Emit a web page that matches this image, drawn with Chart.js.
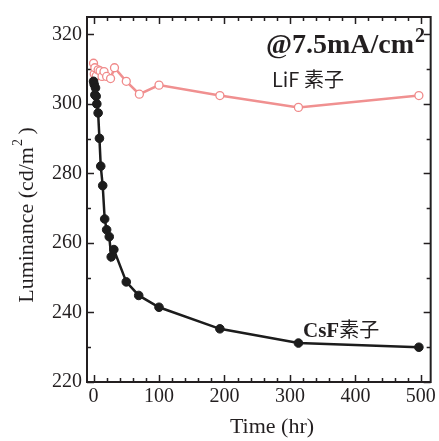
<!DOCTYPE html>
<html>
<head>
<meta charset="utf-8">
<script src="https://cdn.jsdelivr.net/npm/chart.js@4"></script>
<style>
  html, body { margin: 0; padding: 0; background: #fff; }
  #wrap { width: 439px; height: 441px; }
</style>
</head>
<body>
<div id="wrap"><canvas id="myChart"></canvas></div>
<script>
// Datos (tiempo en horas, luminancia en cd/m2)
var csfTime = [0, 1, 2, 3, 4, 5, 7, 9, 11, 14, 17, 20, 24, 27, 31, 50, 69, 100, 193, 313, 497];
var csfLum = [306.5, 305.6, 302.6, 304.6, 302.2, 300.0, 297.4, 290.1, 282.1, 276.5, 266.9, 263.8, 261.8, 256.0, 258.1, 248.8, 244.9, 241.5, 235.3, 231.2, 230.0];

var lifTime = [0, 1, 2, 4, 7, 10, 13, 16, 20, 26, 32, 50, 70, 100, 193, 313, 497];
var lifLum = [311.7, 308.6, 310.4, 308.0, 309.8, 309.5, 307.9, 309.3, 307.9, 307.3, 310.4, 306.5, 302.8, 305.4, 302.4, 299.0, 302.4];

var xTicks = [0, 100, 200, 300, 400, 500];
var yTicks = [220, 240, 260, 280, 300, 320];
var xMinorStep = 20;
var yMinorStep = 10;

var inkColor = '#231f20';
var serif = "'Liberation Serif', 'DejaVu Serif', serif";
var cjk = "'Noto Sans CJK JP', 'Noto Sans', sans-serif";

// Marco con marcas hacia adentro en los cuatro lados
var framePlugin = {
    id: 'frame',
    beforeDatasetsDraw: function(chart) {
        var ctx = chart.ctx;
        var a = chart.chartArea;
        var xs = chart.scales.x;
        var ys = chart.scales.y;
        ctx.save();
        ctx.strokeStyle = inkColor;
        ctx.lineWidth = 1.5;
        var v, px, len;
        for (v = xs.min; v <= xs.max; v++) {
            if (v % xMinorStep !== 0) continue;
            px = Math.round(xs.getPixelForValue(v)) + 0.5;
            len = (v % 100 === 0) ? 7 : 4;
            ctx.beginPath();
            ctx.moveTo(px, a.bottom); ctx.lineTo(px, a.bottom - len);
            ctx.moveTo(px, a.top); ctx.lineTo(px, a.top + len);
            ctx.stroke();
        }
        for (v = ys.min; v <= ys.max; v++) {
            if (v % yMinorStep !== 0) continue;
            px = Math.round(ys.getPixelForValue(v)) + 0.5;
            len = (v % 20 === 0) ? 7 : 4;
            ctx.beginPath();
            ctx.moveTo(a.left, px); ctx.lineTo(a.left + len, px);
            ctx.moveTo(a.right, px); ctx.lineTo(a.right - len, px);
            ctx.stroke();
        }
        ctx.lineWidth = 2;
        ctx.strokeRect(a.left, a.top, a.right - a.left, a.bottom - a.top);
        ctx.restore();
    },
    afterDraw: function(chart) {
        var ctx = chart.ctx;
        ctx.save();
        ctx.fillStyle = inkColor;
        ctx.textBaseline = 'alphabetic';

        // titulo eje Y
        ctx.save();
        ctx.translate(25, 215);
        ctx.rotate(-Math.PI / 2);
        var t1 = 'Luminance (cd/m';
        var t3 = ' )';
        ctx.font = '14px ' + serif;
        var w2 = ctx.measureText('2').width;
        ctx.font = '22px ' + serif;
        var w1 = ctx.measureText(t1).width;
        var w3 = ctx.measureText(t3).width;
        var x0 = -(w1 + w2 + w3) / 2;
        ctx.textAlign = 'left';
        ctx.fillText(t1, x0, 8);
        ctx.font = '14px ' + serif;
        ctx.fillText('2', x0 + w1 + 1, -3);
        ctx.font = '22px ' + serif;
        ctx.fillText(t3, x0 + w1 + w2, 8);
        ctx.restore();

        // titulo eje X
        ctx.font = '22px ' + serif;
        ctx.textAlign = 'center';
        ctx.fillText('Time (hr)', 272, 433);

        // condicion de medida
        ctx.textAlign = 'left';
        ctx.font = 'bold 28px ' + serif;
        var cond = '@7.5mA/cm';
        ctx.fillText(cond, 266, 53);
        var wc = ctx.measureText(cond).width;
        ctx.font = 'bold 20px ' + serif;
        ctx.fillText('2', 266 + wc + 1, 42);

        // etiquetas de series
        ctx.font = '20px ' + cjk;
        ctx.fillText('LiF 素子', 272, 87);

        ctx.font = 'bold 21px ' + serif;
        ctx.fillText('CsF', 303, 337);
        var wcs = ctx.measureText('CsF').width;
        ctx.font = '20px ' + cjk;
        ctx.fillText('素子', 303 + wcs, 337);
        ctx.restore();
    }
};

function toPoints(xs, ys) {
    return xs.map(function(x, i) { return { x: x, y: ys[i] }; });
}

var ctx = document.getElementById('myChart').getContext('2d');
var myChart = new Chart(ctx, {
    type: 'scatter',
    data: {
        datasets: [{
            label: 'CsF素子',
            data: toPoints(csfTime, csfLum),
            showLine: true,
            borderColor: '#1c1c1c',
            backgroundColor: '#1c1c1c',
            borderWidth: 2.5,
            pointRadius: 4.3,
            pointBorderWidth: 1,
            pointBorderColor: '#1c1c1c',
            pointBackgroundColor: '#1c1c1c'
        }, {
            label: 'LiF 素子',
            data: toPoints(lifTime, lifLum),
            showLine: true,
            borderColor: '#f09090',
            borderWidth: 2.5,
            pointRadius: 4,
            pointBorderWidth: 1.3,
            pointBorderColor: '#f08a8a',
            pointBackgroundColor: '#ffffff'
        }]
    },
    options: {
        responsive: true,
        maintainAspectRatio: false,
        animation: false,
        layout: { padding: { top: 12, right: 2, left: 0, bottom: 0 } },
        plugins: {
            legend: { display: false },
            tooltip: { enabled: false }
        },
        scales: {
            x: {
                type: 'linear',
                min: -10,
                max: 515,
                grid: { display: false, drawTicks: false },
                border: { display: false },
                afterBuildTicks: function(s) {
                    s.ticks = xTicks.map(function(v) { return { value: v }; });
                },
                afterFit: function(s) { s.height = 59; },
                ticks: {
                    font: { family: serif, size: 20 },
                    color: inkColor,
                    padding: 3,
                    maxRotation: 0,
                    autoSkip: false
                }
            },
            y: {
                min: 220,
                max: 325,
                grid: { display: false, drawTicks: false },
                border: { display: false },
                afterBuildTicks: function(s) {
                    s.ticks = yTicks.map(function(v) { return { value: v }; });
                },
                afterFit: function(s) { s.width = 87; },
                ticks: {
                    font: { family: serif, size: 20 },
                    color: inkColor,
                    padding: 5,
                    autoSkip: false
                }
            }
        }
    },
    plugins: [framePlugin]
});
</script>
</body>
</html>
